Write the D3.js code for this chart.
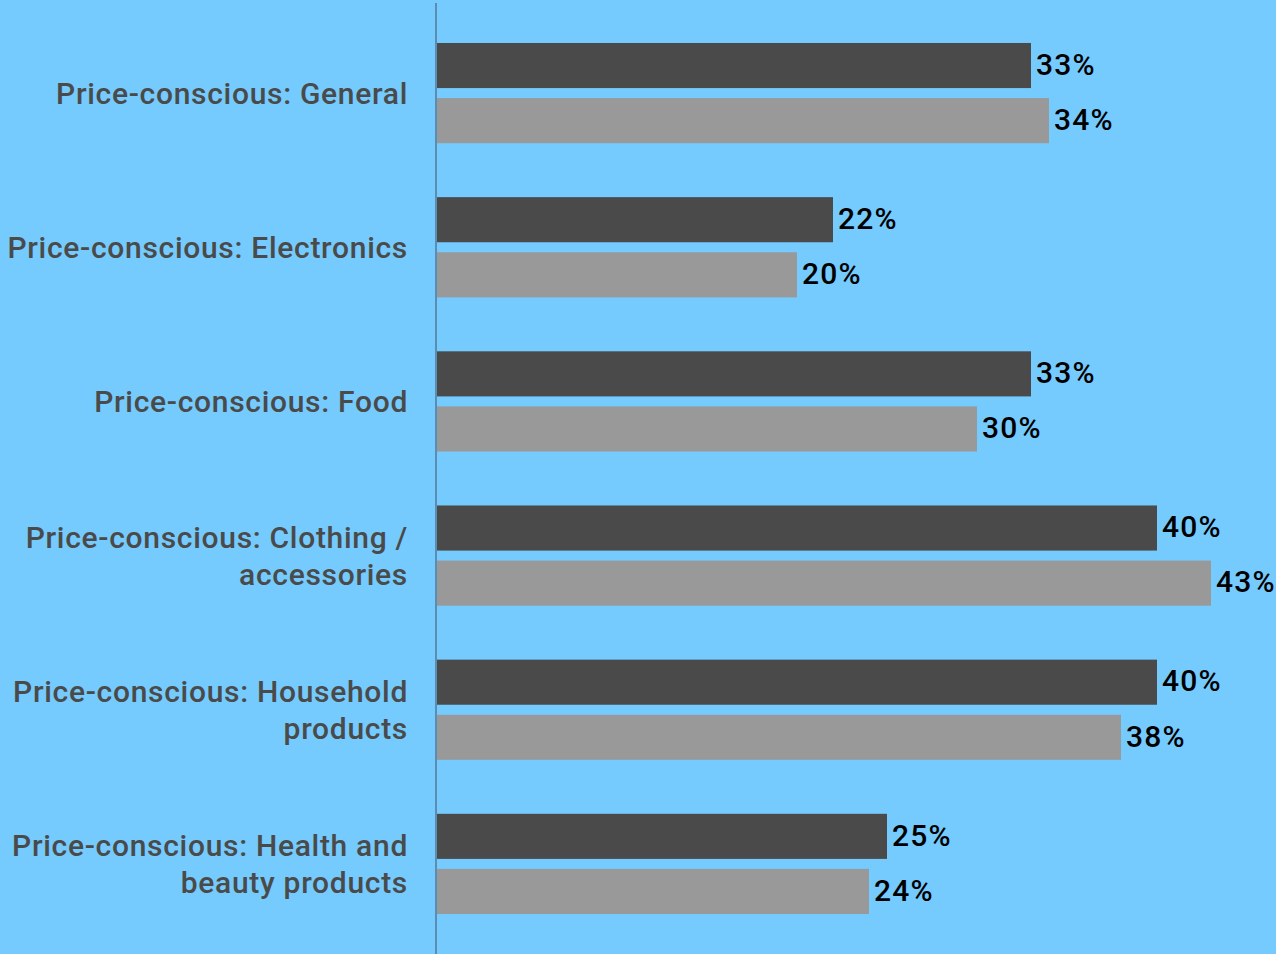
<!DOCTYPE html>
<html>
<head>
<meta charset="utf-8">
<script src="https://cdn.jsdelivr.net/npm/d3@7"></script>
<style>
  html, body { margin: 0; padding: 0; background: #75cbfd; }
  svg { display: block; }
</style>
</head>
<body>
<svg id="chart" width="1276" height="954"></svg>
<script>
// Categories (label lines) and the two series of shares
const categories = [
  ["Price-conscious: General"],
  ["Price-conscious: Electronics"],
  ["Price-conscious: Food"],
  ["Price-conscious: Clothing /", "accessories"],
  ["Price-conscious: Household", "products"],
  ["Price-conscious: Health and", "beauty products"]
];
const seriesA = [0.33, 0.22, 0.33, 0.40, 0.40, 0.25];
const seriesB = [0.34, 0.20, 0.30, 0.43, 0.38, 0.24];
const seriesNames = ["A", "B"];
const seriesColors = ["#4a4a4a", "#999999"];

const W = 1276, H = 954;
const svg = d3.select("#chart");

svg.append("rect").attr("width", W).attr("height", H).attr("fill", "#75cbfd");

const keys = categories.map((c, i) => i);
const y = d3.scaleBand().domain(keys).range([16, 941])
  .paddingInner(0.35).paddingOuter(0.175);
const ySub = d3.scaleBand().domain(seriesNames).range([0, y.bandwidth()])
  .paddingInner(0.1818);
const x = d3.scaleLinear().domain([0, 0.45]).range([437, 1247]);

const rows = keys.map(i => ({ i, values: [seriesA[i], seriesB[i]] }));

const groups = svg.append("g").selectAll("g").data(rows).join("g")
  .attr("transform", d => `translate(0,${y(d.i)})`);

groups.selectAll("rect").data(d => d.values.map((v, k) => ({ v, k })))
  .join("rect")
  .attr("x", x(0))
  .attr("y", d => ySub(seriesNames[d.k]))
  .attr("width", d => x(d.v) - x(0))
  .attr("height", ySub.bandwidth())
  .attr("fill", d => seriesColors[d.k]);

groups.selectAll("text.val").data(d => d.values.map((v, k) => ({ v, k })))
  .join("text")
  .attr("class", "val")
  .attr("x", d => x(d.v) + 5)
  .attr("y", d => ySub(seriesNames[d.k]) + ySub.bandwidth() / 2)
  .attr("dy", "0.31em")
  .attr("font-family", "Roboto, sans-serif")
  .attr("font-weight", 500)
  .attr("font-size", 30)
  .attr("letter-spacing", 1.2)
  .attr("fill", "#000")
  .text(d => d3.format(".0%")(d.v));

// Category labels, right-aligned against the axis
const lineH = 37;
groups.append("text")
  .attr("text-anchor", "end")
  .attr("font-family", "Roboto, sans-serif")
  .attr("font-weight", 500)
  .attr("font-size", 30)
  .attr("letter-spacing", 0.7)
  .attr("fill", "#4a4a4a")
  .each(function(d) {
    const lines = categories[d.i];
    const t = d3.select(this);
    const c = y.bandwidth() / 2;
    const first = c - (lines.length - 1) * lineH / 2;
    lines.forEach((ln, j) => {
      t.append("tspan")
        .attr("x", 408)
        .attr("y", first + j * lineH)
        .attr("dy", "0.36em")
        .text(ln);
    });
  });

// Vertical category axis line
svg.append("line")
  .attr("x1", 436).attr("x2", 436)
  .attr("y1", 3).attr("y2", H)
  .attr("stroke", "#5b8db2").attr("stroke-width", 2);
</script>
</body>
</html>
